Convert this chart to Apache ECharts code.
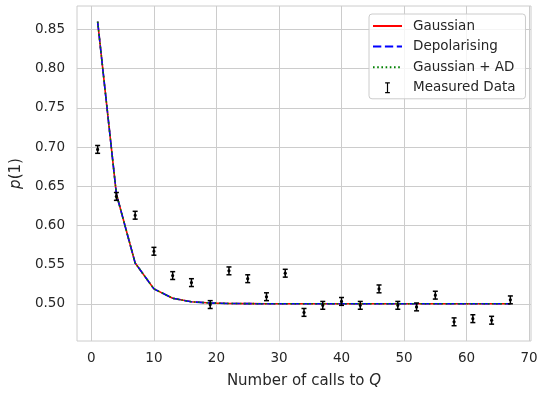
<!DOCTYPE html>
<html>
<head>
<meta charset="utf-8">
<script src="https://cdn.jsdelivr.net/npm/echarts@6/dist/echarts.min.js"></script>
<style>html,body{margin:0;padding:0;background:#fff}#c{width:542px;height:394px}</style>
</head>
<body>
<div id="c"></div>
<script>
// Data
var modelX = [1, 4, 7, 10, 13, 16, 19, 22, 25, 28, 31, 34, 37, 40, 43, 46, 49, 52, 55, 58, 61, 64, 67];
var gaussianY = [0.860, 0.640, 0.552, 0.519, 0.507, 0.5025, 0.501, 0.5004, 0.5002, 0.5, 0.5, 0.5, 0.5, 0.5, 0.5, 0.5, 0.5, 0.5, 0.5, 0.5, 0.5, 0.5, 0.5];
var depolarisingY = [0.860, 0.640, 0.552, 0.519, 0.507, 0.5025, 0.501, 0.5004, 0.5002, 0.5, 0.5, 0.5, 0.5, 0.5, 0.5, 0.5, 0.5, 0.5, 0.5, 0.5, 0.5, 0.5, 0.5];
var gaussianADY = [0.860, 0.640, 0.552, 0.519, 0.507, 0.5025, 0.501, 0.5004, 0.5002, 0.5, 0.5, 0.5, 0.5, 0.5, 0.5, 0.5, 0.5, 0.5, 0.5, 0.5, 0.5, 0.5, 0.5];
var measX = [1, 4, 7, 10, 13, 16, 19, 22, 25, 28, 31, 34, 37, 40, 43, 46, 49, 52, 55, 58, 61, 64, 67];
var measY = [0.697, 0.637, 0.613, 0.567, 0.536, 0.527, 0.499, 0.542, 0.532, 0.509, 0.539, 0.489, 0.498, 0.503, 0.498, 0.519, 0.498, 0.496, 0.511, 0.477, 0.481, 0.479, 0.505];
var measErr = [0.005, 0.005, 0.005, 0.005, 0.005, 0.005, 0.005, 0.005, 0.005, 0.005, 0.005, 0.005, 0.005, 0.005, 0.005, 0.005, 0.005, 0.005, 0.005, 0.005, 0.005, 0.005, 0.005];
var xTicks = [0, 10, 20, 30, 40, 50, 60, 70];
var yTicks = [0.50, 0.55, 0.60, 0.65, 0.70, 0.75, 0.80, 0.85];

var FONT = 'DejaVu Sans';
var TXT = '#262626';
function pairs(xs, ys){ return xs.map(function(x,i){ return [x, ys[i]]; }); }
var errData = measX.map(function(x,i){ return [x, measY[i], measY[i]-measErr[i], measY[i]+measErr[i]]; });
var hideSym = {color: 'rgba(0,0,0,0)', opacity: 0, borderWidth: 0};

var chart = echarts.init(document.getElementById('c'), null, {renderer:'canvas'});
chart.setOption({
  animation: false,
  backgroundColor: '#ffffff',
  grid: {left: 77, right: 11, top: 6, bottom: 49, show: true, borderColor: '#cccccc', borderWidth: 1, containLabel: false},
  xAxis: {
    type: 'value', min: -2.3, max: 70.3,
    axisLine: {show: false}, axisTick: {show: false, customValues: xTicks},
    axisLabel: {customValues: xTicks, color: TXT, fontFamily: FONT, fontSize: 13.5, margin: 10},
    splitLine: {show: true, lineStyle: {color: '#cccccc', width: 1}},
    name: '{n|Number of calls to }{i|Q}', nameLocation: 'middle', nameGap: 33,
    nameTextStyle: {color: TXT, fontFamily: FONT, fontSize: 15,
      rich: {n: {color: TXT, fontFamily: FONT, fontSize: 15}, i: {color: TXT, fontFamily: FONT, fontSize: 15, fontStyle: 'italic'}}}
  },
  yAxis: {
    type: 'value', min: 0.4525, max: 0.880,
    axisLine: {show: false}, axisTick: {show: false, customValues: yTicks},
    axisLabel: {customValues: yTicks, color: TXT, fontFamily: FONT, fontSize: 13.5, margin: 12,
      formatter: function(v){ return v.toFixed(2); }},
    splitLine: {show: true, lineStyle: {color: '#cccccc', width: 1}},
    name: '{i|p}{n|(1)}', nameLocation: 'middle', nameGap: 51, nameRotate: 90,
    nameTextStyle: {color: TXT, fontFamily: FONT, fontSize: 15,
      rich: {n: {color: TXT, fontFamily: FONT, fontSize: 15}, i: {color: TXT, fontFamily: FONT, fontSize: 15, fontStyle: 'italic'}}}
  },
  legend: {
    orient: 'vertical', left: 369, top: 14,
    padding: [5, 10, 4, 3],
    itemWidth: 29, itemHeight: 11, itemGap: 6.6,
    backgroundColor: 'rgba(255,255,255,0.8)', borderColor: '#cccccc', borderWidth: 1, borderRadius: 3,
    textStyle: {color: TXT, fontFamily: FONT, fontSize: 13.5, padding: [0, 0, 0, 6]},
    data: [
      {name: 'Gaussian', itemStyle: hideSym},
      {name: 'Depolarising', itemStyle: hideSym},
      {name: 'Gaussian + AD', itemStyle: hideSym},
      {name: 'Measured Data', icon: 'path://M0,0h6v1.5h-6z M2.25,0h1.5v14h-1.5z M0,12.5h6v1.5h-6z', itemStyle: {color: '#000', opacity: 1}}
    ]
  },
  series: [
    {name: 'Gaussian', type: 'line', data: pairs(modelX, gaussianY), symbol: 'none', showSymbol: false,
      lineStyle: {color: '#ff0000', width: 1.6, type: 'solid'}, itemStyle: {color: '#ff0000'}, z: 3},
    {name: 'Depolarising', type: 'line', data: pairs(modelX, depolarisingY), symbol: 'none', showSymbol: false,
      lineStyle: {color: '#0000ff', width: 1.6, type: [8.3, 3.6]}, itemStyle: {color: '#0000ff'}, z: 4},
    {name: 'Gaussian + AD', type: 'line', data: pairs(modelX, gaussianADY), symbol: 'none', showSymbol: false,
      lineStyle: {color: '#008000', width: 1.6, type: [1.6, 2.6]}, itemStyle: {color: '#008000'}, z: 5},
    {name: 'Measured Data', type: 'custom', data: errData, z: 6,
      itemStyle: {color: '#000'},
      encode: {x: 0, y: [1, 2, 3]},
      renderItem: function(params, api){
        var x = api.value(0);
        var c = api.coord([x, api.value(1)]);
        var lo = api.coord([x, api.value(2)]);
        var hi = api.coord([x, api.value(3)]);
        var cw = 2.5;
        var st = {stroke: '#000', lineWidth: 1.5, fill: null};
        return {type: 'group', children: [
          {type: 'line', shape: {x1: c[0], y1: lo[1], x2: c[0], y2: hi[1]}, style: st},
          {type: 'line', shape: {x1: c[0]-cw, y1: lo[1], x2: c[0]+cw, y2: lo[1]}, style: st},
          {type: 'line', shape: {x1: c[0]-cw, y1: hi[1], x2: c[0]+cw, y2: hi[1]}, style: st},
          {type: 'circle', shape: {cx: c[0], cy: c[1], r: 1.6}, style: {fill: '#000'}}
        ]};
      }
    }
  ]
});
</script>
</body>
</html>
